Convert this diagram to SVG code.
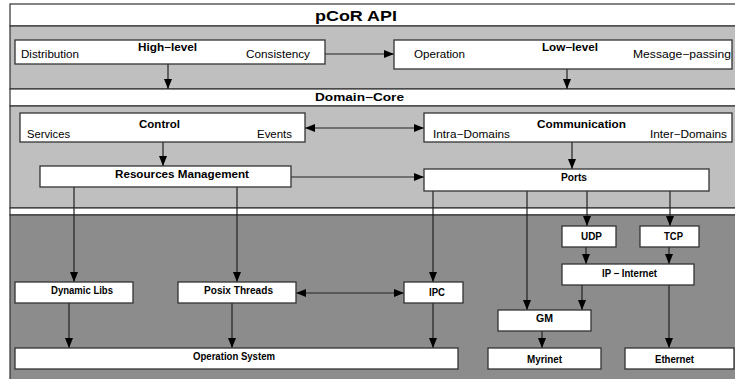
<svg xmlns="http://www.w3.org/2000/svg" width="735" height="379" viewBox="0 0 735 379">
<defs>
<style>
.band-w{fill:#ffffff;stroke:#333;stroke-width:1.2}
.band-l{fill:#bfbfbf;stroke:#333;stroke-width:1.2}
.band-d{fill:#8c8c8c;stroke:#333;stroke-width:1.2}
.box{fill:#ffffff;stroke:#333;stroke-width:1.3}
.t{font-family:"Liberation Sans",Arial,sans-serif;font-size:10.5px;fill:#000}
.b{font-family:"Liberation Sans",Arial,sans-serif;font-size:10.5px;font-weight:bold;fill:#000}
.h{font-family:"Liberation Sans",Arial,sans-serif;font-size:14px;font-weight:bold;fill:#000}
.c{fill:none;stroke:#222;stroke-width:1.2}
</style>
<marker id="ah" viewBox="0 0 10 8" refX="10" refY="4" markerWidth="10" markerHeight="8" markerUnits="userSpaceOnUse" orient="auto-start-reverse">
<path d="M0,0 L10,4 L0,8 Z" fill="#000"/>
</marker>
</defs>

<g id="bands">
<rect class="band-w" x="10" y="4" width="740" height="22"/>
<rect class="band-l" x="10" y="26" width="740" height="63"/>
<rect class="band-w" x="10" y="89" width="740" height="17"/>
<rect class="band-l" x="10" y="106" width="740" height="102"/>
<rect class="band-w" x="10" y="208" width="740" height="7"/>
<rect class="band-d" x="10" y="215" width="740" height="170"/>
<text class="h" x="315" y="21" textLength="82" lengthAdjust="spacingAndGlyphs">pCoR API</text>
<text class="b" x="315" y="101" textLength="89" lengthAdjust="spacingAndGlyphs">Domain−Core</text>
</g>

<g id="connectors">
<line class="c" x1="168" y1="64" x2="168" y2="89" marker-end="url(#ah)"/>
<line class="c" x1="325" y1="54" x2="394" y2="54" marker-end="url(#ah)"/>
<line class="c" x1="567" y1="69" x2="567" y2="89" marker-end="url(#ah)"/>
<line class="c" x1="305" y1="128" x2="424" y2="128" marker-start="url(#ah)" marker-end="url(#ah)"/>
<line class="c" x1="163" y1="142" x2="163" y2="166" marker-end="url(#ah)"/>
<line class="c" x1="572" y1="142" x2="572" y2="169" marker-end="url(#ah)"/>
<line class="c" x1="291" y1="177" x2="424" y2="177" marker-end="url(#ah)"/>
<line class="c" x1="74" y1="187" x2="74" y2="282" marker-end="url(#ah)"/>
<line class="c" x1="237" y1="187" x2="237" y2="282" marker-end="url(#ah)"/>
<line class="c" x1="433" y1="191" x2="433" y2="282" marker-end="url(#ah)"/>
<line class="c" x1="527" y1="191" x2="527" y2="310" marker-end="url(#ah)"/>
<line class="c" x1="587" y1="191" x2="587" y2="226" marker-end="url(#ah)"/>
<line class="c" x1="670" y1="191" x2="670" y2="226" marker-end="url(#ah)"/>
<line class="c" x1="586" y1="247" x2="586" y2="264" marker-end="url(#ah)"/>
<line class="c" x1="669" y1="247" x2="669" y2="264" marker-end="url(#ah)"/>
<line class="c" x1="582" y1="285" x2="582" y2="310" marker-end="url(#ah)"/>
<line class="c" x1="669" y1="285" x2="669" y2="348" marker-end="url(#ah)"/>
<line class="c" x1="542" y1="331" x2="542" y2="348" marker-end="url(#ah)"/>
<line class="c" x1="296" y1="293" x2="404" y2="293" marker-start="url(#ah)" marker-end="url(#ah)"/>
<line class="c" x1="69" y1="303" x2="69" y2="348" marker-end="url(#ah)"/>
<line class="c" x1="232" y1="303" x2="232" y2="348" marker-end="url(#ah)"/>
<line class="c" x1="433" y1="303" x2="433" y2="348" marker-end="url(#ah)"/>
</g>

<g id="high-level">
<rect class="box" x="15" y="40" width="310" height="24"/>
<text class="b" x="138" y="51" textLength="59" lengthAdjust="spacingAndGlyphs">High−level</text>
<text class="t" x="21" y="58" textLength="58" lengthAdjust="spacingAndGlyphs">Distribution</text>
<text class="t" x="246" y="58" textLength="64" lengthAdjust="spacingAndGlyphs">Consistency</text>
</g>

<g id="low-level">
<rect class="box" x="394" y="40" width="338" height="29"/>
<text class="b" x="542" y="51" textLength="56" lengthAdjust="spacingAndGlyphs">Low−level</text>
<text class="t" x="414" y="58" textLength="51" lengthAdjust="spacingAndGlyphs">Operation</text>
<text class="t" x="633" y="58" textLength="98" lengthAdjust="spacingAndGlyphs">Message−passing</text>
</g>

<g id="control">
<rect class="box" x="20" y="113" width="285" height="29"/>
<text class="b" x="139" y="128" textLength="41" lengthAdjust="spacingAndGlyphs">Control</text>
<text class="t" x="27" y="138" textLength="43" lengthAdjust="spacingAndGlyphs">Services</text>
<text class="t" x="257" y="138" textLength="35" lengthAdjust="spacingAndGlyphs">Events</text>
</g>

<g id="communication">
<rect class="box" x="424" y="113" width="308" height="29"/>
<text class="b" x="537" y="128" textLength="89" lengthAdjust="spacingAndGlyphs">Communication</text>
<text class="t" x="433" y="138" textLength="77" lengthAdjust="spacingAndGlyphs">Intra−Domains</text>
<text class="t" x="650" y="138" textLength="77" lengthAdjust="spacingAndGlyphs">Inter−Domains</text>
</g>

<g id="resources-management">
<rect class="box" x="40" y="166" width="251" height="21"/>
<text class="b" x="115" y="178" textLength="134" lengthAdjust="spacingAndGlyphs">Resources Management</text>
</g>

<g id="ports">
<rect class="box" x="424" y="169" width="285" height="22"/>
<text class="b" x="561" y="181" textLength="26" lengthAdjust="spacingAndGlyphs">Ports</text>
</g>

<g id="udp">
<rect class="box" x="562" y="226" width="54" height="21"/>
<text class="b" x="581" y="240" textLength="21" lengthAdjust="spacingAndGlyphs">UDP</text>
</g>

<g id="tcp">
<rect class="box" x="640" y="226" width="59" height="21"/>
<text class="b" x="664" y="240" textLength="19" lengthAdjust="spacingAndGlyphs">TCP</text>
</g>

<g id="ip-internet">
<rect class="box" x="562" y="264" width="132" height="21"/>
<text class="b" x="602" y="277" textLength="55" lengthAdjust="spacingAndGlyphs">IP − Internet</text>
</g>

<g id="dynamic-libs">
<rect class="box" x="15" y="282" width="118" height="21"/>
<text class="b" x="51" y="294" textLength="62" lengthAdjust="spacingAndGlyphs">Dynamic Libs</text>
</g>

<g id="posix-threads">
<rect class="box" x="178" y="282" width="118" height="21"/>
<text class="b" x="204" y="294" textLength="69" lengthAdjust="spacingAndGlyphs">Posix Threads</text>
</g>

<g id="ipc">
<rect class="box" x="404" y="282" width="59" height="21"/>
<text class="b" x="429" y="296" textLength="16" lengthAdjust="spacingAndGlyphs">IPC</text>
</g>

<g id="gm">
<rect class="box" x="498" y="310" width="93" height="21"/>
<text class="b" x="536" y="322" textLength="17" lengthAdjust="spacingAndGlyphs">GM</text>
</g>

<g id="operation-system">
<rect class="box" x="15" y="348" width="443" height="21"/>
<text class="b" x="193" y="360" textLength="82" lengthAdjust="spacingAndGlyphs">Operation System</text>
</g>

<g id="myrinet">
<rect class="box" x="488" y="348" width="113" height="21"/>
<text class="b" x="527" y="363" textLength="35" lengthAdjust="spacingAndGlyphs">Myrinet</text>
</g>

<g id="ethernet">
<rect class="box" x="625" y="348" width="109" height="21"/>
<text class="b" x="655" y="363" textLength="39" lengthAdjust="spacingAndGlyphs">Ethernet</text>
</g>
</svg>
